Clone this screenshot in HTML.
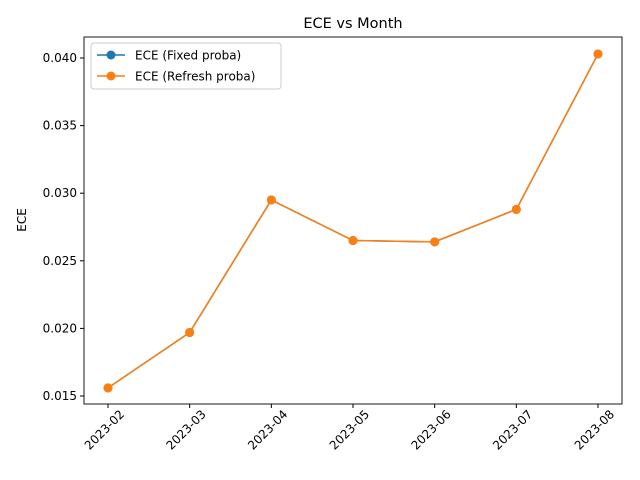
<!DOCTYPE html>
<html><head><meta charset="utf-8"><style>body{margin:0;background:#fff}svg{display:block;font-family:"DejaVu Sans","Liberation Sans",sans-serif}</style></head>
<body>
<svg id="chart" width="640" height="480">
<rect x="0" y="0" width="640" height="480" fill="#fff"/>
<text x="353" y="28" font-size="14.5" text-anchor="middle">ECE vs Month</text>
<text transform="translate(26,220) rotate(-90)" font-size="12" text-anchor="middle">ECE</text>
<g id="ticks"></g>
<g id="lines"></g>
<rect x="84" y="37" width="538" height="367" fill="none" stroke="#000" stroke-width="0.9"/>
<g>
<rect x="91" y="43" width="190" height="46" rx="3" fill="#fff" fill-opacity="0.8" stroke="#ccc"/>
<g><line x1="97" y1="55" x2="125" y2="55" stroke="#1f77b4" stroke-width="1.5"/><circle cx="111" cy="55" r="4.5" fill="#1f77b4"/><text x="135" y="59.5" font-size="12">ECE (Fixed proba)</text></g>
<g><line x1="97" y1="76" x2="125" y2="76" stroke="#ff7f0e" stroke-width="1.5"/><circle cx="111" cy="76" r="4.5" fill="#ff7f0e"/><text x="135" y="80.5" font-size="12">ECE (Refresh proba)</text></g>
</g>
</svg>
<script>
const months=["2023-02","2023-03","2023-04","2023-05","2023-06","2023-07","2023-08"];
const fixedVals=[0.0156,0.0197,0.0295,0.0265,0.0264,0.0288,0.0403];
const refreshVals=[0.0156,0.0197,0.0295,0.0265,0.0264,0.0288,0.0403];
const yTicks=[0.015,0.020,0.025,0.030,0.035,0.040];
const NS="http://www.w3.org/2000/svg";
function xs(i){return 108+i*(598-108)/(months.length-1);}
function ys(v){return 396-(v-0.015)/0.005*67.6;}
const tg=document.getElementById('ticks');
yTicks.forEach(t=>{
 const l=document.createElementNS(NS,'line');
 l.setAttribute('x1',84);l.setAttribute('x2',80);l.setAttribute('y1',ys(t));l.setAttribute('y2',ys(t));l.setAttribute('stroke','#000');
 
 
 tg.appendChild(l);
 const tx=document.createElementNS(NS,'text');
 tx.setAttribute('x',77);tx.setAttribute('y',ys(t)+4);tx.setAttribute('font-size','12');tx.setAttribute('text-anchor','end');
 tx.textContent=t.toFixed(3);
 
 
 tg.appendChild(tx);
});
months.forEach((m,i)=>{
 const l=document.createElementNS(NS,'line');
 l.setAttribute('x1',xs(i));l.setAttribute('x2',xs(i));l.setAttribute('y1',404);l.setAttribute('y2',408);l.setAttribute('stroke','#000');
 
 
 tg.appendChild(l);
 const tx=document.createElementNS(NS,'text');
 tx.setAttribute('transform','translate('+(xs(i)+17)+',415) rotate(-45)');
 tx.setAttribute('font-size','12');tx.setAttribute('text-anchor','end');
 tx.textContent=m;
 
 
 tg.appendChild(tx);
});
const lg=document.getElementById('lines');
function series(vals,color,name){
 const p=document.createElementNS(NS,'polyline');
 p.setAttribute('points',vals.map((v,i)=>xs(i)+','+ys(v)).join(' '));
 p.setAttribute('fill','none');p.setAttribute('stroke',color);p.setAttribute('stroke-width','1.5');
 
 
 lg.appendChild(p);
 vals.forEach((v,i)=>{
  const c=document.createElementNS(NS,'circle');
  c.setAttribute('cx',xs(i));c.setAttribute('cy',ys(v));c.setAttribute('r',4.5);c.setAttribute('fill',color);
  
  
  lg.appendChild(c);
 });
}
series(fixedVals,'#1f77b4','fixed-proba');
series(refreshVals,'#ff7f0e','refresh-proba');
</script>
</body></html>
